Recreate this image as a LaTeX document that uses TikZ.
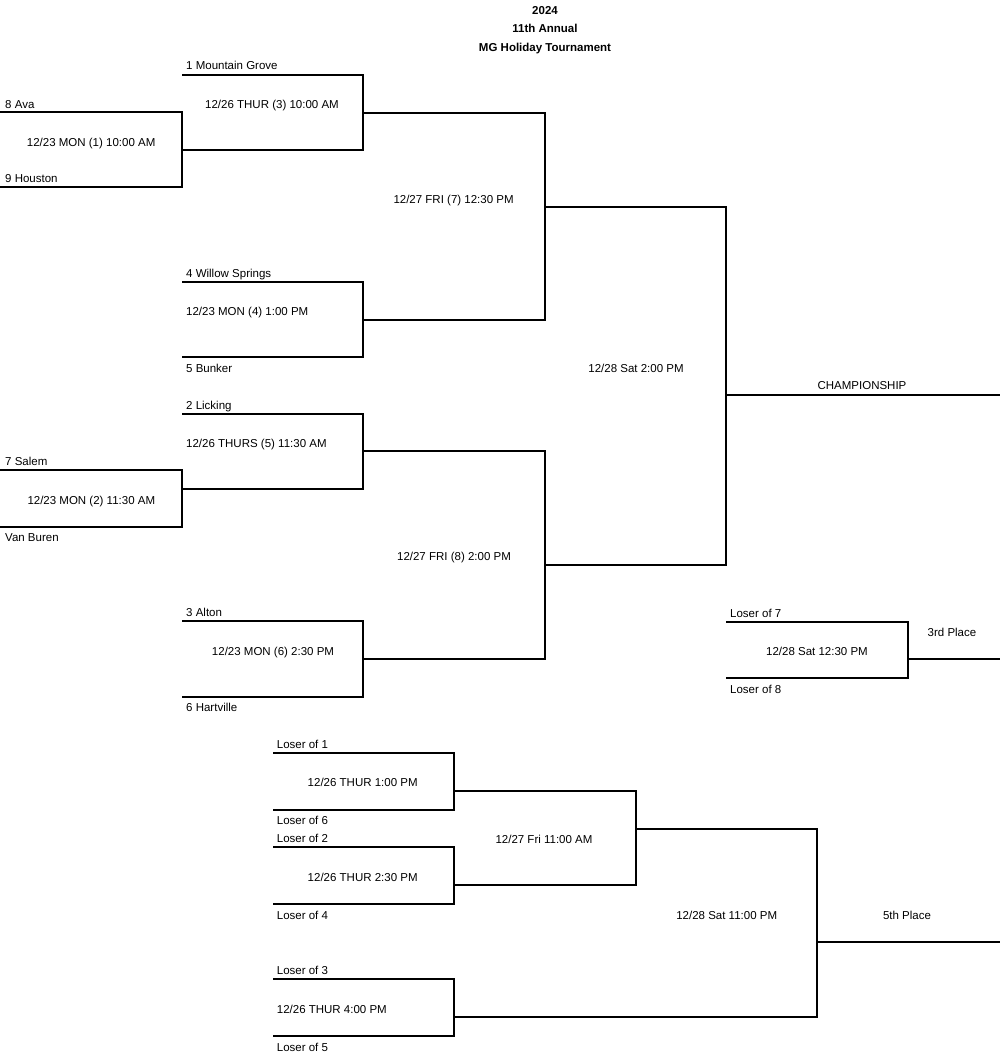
\documentclass[tikz,border=0pt]{standalone}
\usepackage{fontspec}
\setmainfont{Liberation Sans}
\newcommand{\bmatch}[5]{%
  \coordinate (#1-tl) at (#2,#4);
  \coordinate (#1-tr) at (#3,#4);
  \coordinate (#1-br) at (#3,#5);
  \coordinate (#1-bl) at (#2,#5);
  \draw[bracket] (#1-tl) -- (#1-tr) -- (#1-br) -- (#1-bl);}
\begin{document}
\begin{tikzpicture}[x=1pt,y=-1pt,
  bracket/.style={line width=1.9pt, line join=miter, line cap=butt},
  lbl/.style={anchor=base west, inner sep=0pt, font=\fontsize{11.5}{13}\selectfont},
  ctr/.style={anchor=base, inner sep=0pt, font=\fontsize{11.5}{13}\selectfont},
  ttl/.style={anchor=base, inner sep=0pt, font=\bfseries\fontsize{11.5}{13}\selectfont}]
\useasboundingbox (0,0) rectangle (1000,1057);
% title
\node[ttl] (t1) at (545,15) {2024};
\node[ttl] (t2) at (545,33) {11th Annual};
\node[ttl] (t3) at (545,52) {MG Holiday Tournament};
% brackets (main)
\bmatch{g1}{0}{182}{112}{187}
\bmatch{g3}{182}{363}{75}{150}
\bmatch{g4}{182}{363}{282}{357}
\bmatch{g7}{363}{545}{113}{320}
\bmatch{g5}{182}{363}{414}{489}
\bmatch{g2}{0}{182}{470}{527}
\bmatch{g6}{182}{363}{621}{697}
\bmatch{g8}{363}{545}{451}{659}
\bmatch{gc}{545}{726}{207}{565}
\coordinate (champ-a) at (726,395);
\coordinate (champ-b) at (1000,395);
\draw[bracket] (champ-a) -- (champ-b);
% 3rd place
\bmatch{g3p}{726}{908}{622}{678}
\coordinate (third-a) at (908,659);
\coordinate (third-b) at (1000,659);
\draw[bracket] (third-a) -- (third-b);
% consolation
\bmatch{c1}{273}{454}{753}{810}
\bmatch{c2}{273}{454}{847}{904}
\bmatch{c3}{454}{636}{791}{885}
\bmatch{c4}{273}{454}{979}{1036}
\bmatch{c5}{636}{817}{829}{1017}
\coordinate (c4-out) at (454,1017);
\draw[bracket] (c4-out) -- (c5-bl);
\coordinate (fifth-a) at (817,942);
\coordinate (fifth-b) at (1000,942);
\draw[bracket] (fifth-a) -- (fifth-b);
% labels
\node[lbl] (n1) at (186,70) {1 Mountain Grove};
\node[lbl] (m3) at (205,108.5) {12/26 THUR (3) 10:00 AM};
\node[lbl] (n8) at (5,108) {8 Ava};
\node[lbl] (m1) at (26.7,146.7) {12/23 MON (1) 10:00 AM};
\node[lbl] (n9) at (5,182.3) {9 Houston};
\node[lbl] (m7) at (393.3,203) {12/27 FRI (7) 12:30 PM};
\node[lbl] (n4) at (186,277.3) {4 Willow Springs};
\node[lbl] (m4) at (186,315.7) {12/23 MON (4) 1:00 PM};
\node[lbl] (n5) at (186,372.3) {5 Bunker};
\node[lbl] (n2) at (186,409) {2 Licking};
\node[lbl] (m5) at (186,447.3) {12/26 THURS (5) 11:30 AM};
\node[lbl] (n7) at (5,465.7) {7 Salem};
\node[lbl] (m2) at (27.3,504) {12/23 MON (2) 11:30 AM};
\node[lbl] (nvb) at (5,541.3) {Van Buren};
\node[ctr] (mc) at (636,372) {12/28 Sat 2:00 PM};
\node[ctr] (champ) at (862,389) {CHAMPIONSHIP};
\node[ctr] (m8) at (454,560) {12/27 FRI (8) 2:00 PM};
\node[lbl] (n3) at (186,616.3) {3 Alton};
\node[ctr] (m6) at (273,655) {12/23 MON (6) 2:30 PM};
\node[lbl] (n6) at (186,711.7) {6 Hartville};
\node[lbl] (l7) at (730,617.3) {Loser of 7};
\node[ctr] (m3p) at (817,655) {12/28 Sat 12:30 PM};
\node[lbl] (l8) at (730,693) {Loser of 8};
\node[ctr] (third) at (952,636) {3rd Place};
\node[lbl] (l1) at (276.7,748) {Loser of 1};
\node[ctr] (mc1) at (362.7,786.7) {12/26 THUR 1:00 PM};
\node[lbl] (l6) at (276.7,824.7) {Loser of 6};
\node[lbl] (l2) at (276.7,842.7) {Loser of 2};
\node[ctr] (mc2) at (362.7,881) {12/26 THUR 2:30 PM};
\node[lbl] (l4) at (276.7,919) {Loser of 4};
\node[ctr] (mc3) at (544,843.3) {12/27 Fri 11:00 AM};
\node[lbl] (l3) at (276.7,974) {Loser of 3};
\node[lbl] (mc4) at (276.7,1013) {12/26 THUR 4:00 PM};
\node[lbl] (l5) at (276.7,1051) {Loser of 5};
\node[ctr] (mc5) at (726.7,919) {12/28 Sat 11:00 PM};
\node[ctr] (fifth) at (907,919) {5th Place};
\end{tikzpicture}
\end{document}
